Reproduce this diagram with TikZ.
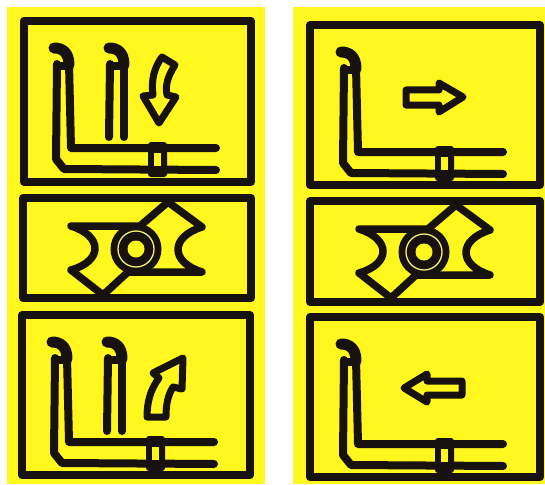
\documentclass[tikz,border=0pt]{standalone}
\usepackage{xcolor}
\usepackage{tikz}

\definecolor{signyellow}{HTML}{FFF71E}
\definecolor{signblack}{HTML}{17120F}
\definecolor{ringcolor}{HTML}{F2EE7A}

\tikzset{
    frameline/.style={draw=signblack, line width=8pt, line join=round},
    pipeline/.style={draw=signblack, line width=8pt, line join=round, line cap=round},
    arrowline/.style={draw=signblack, line width=7pt, line join=round},
    sealline/.style={draw=signblack, line width=8pt, line join=round, line cap=round}
}

\begin{document}
\begin{tikzpicture}[x=1pt, y=-1pt]

    \useasboundingbox (0,0) rectangle (545,484);

    % =================================================================
    % 1. BACKGROUND AND MACROS
    % =================================================================
    \fill[white] (0,0) rectangle (545,484);
    \fill[signyellow] (7,7) rectangle (265,484);
    \fill[signyellow] (293,7) rectangle (545,484);

    % Nozzle tip, origin at the top of its outer wall
    \def\nozzle#1#2{
        \draw[signblack, line width=11pt, line cap=round] (#1-15,#2-14) .. controls (#1-7,#2-14) and (#1,#2-10) .. (#1,#2+3);
    }

    % Long pipe with coupling, origin at the bend of the outer wall
    \def\pipe#1#2{
        \draw[pipeline] (#1-2,#2-85) -- (#1,#2) -- (#1+145,#2);
        \draw[pipeline] (#1-14,#2-84) -- (#1-15,#2+11) -- (#1-7,#2+21) -- (#1+145,#2+22);
        \draw[sealline] (#1-13,#2-82) -- (#1-2,#2-82);
        \nozzle{#1-2}{#2-86}
        \fill[signblack, rounded corners=3pt] (#1+77,#2-6) rectangle (#1+96,#2+29);
        \fill[signyellow] (#1+83,#2+5) rectangle (#1+90,#2+18);
    }

    % Short second pipe
    \def\shortpipe#1#2{
        \draw[pipeline] (#1+53,#2-85) -- (#1+53,#2-11);
        \draw[pipeline] (#1+39,#2-84) -- (#1+38,#2-11);
        \draw[sealline] (#1+40,#2-82) -- (#1+53,#2-82);
        \nozzle{#1+53}{#2-86}
    }

    % Swivel symbol, origin at the centre of the ring
    \def\swivel#1#2{
        \draw[arrowline, line width=7.5pt, line cap=round]
            (#1-65,#2-23) -- (#1+4,#2-23) -- (#1+32,#2-47) -- (#1+66,#2-22)
            .. controls (#1+34,#2-12) and (#1+34,#2+13) .. (#1+66,#2+23)
            -- (#1-8,#2+23) -- (#1-33,#2+46) -- (#1-65,#2+21)
            .. controls (#1-33,#2+12) and (#1-33,#2-13) .. cycle;
        \fill[signblack] (#1,#2) circle (25.5);
        \draw[ringcolor, line width=1.3pt] (#1,#2) circle (18);
        \fill[signyellow] (#1,#2) circle (8.5);
    }

    % =================================================================
    % 2. LEFT COLUMN
    % =================================================================
    \draw[frameline] (24,21) rectangle (251,182);
    \draw[frameline] (23,198) rectangle (251,298);
    \draw[frameline] (22,315) rectangle (250,475);

    \pipe{71}{148}
    \shortpipe{71}{148}
    \swivel{136}{249}
    \pipe{69}{442}
    \shortpipe{69}{442}

    % Curved arrow down
    \draw[arrowline] (162,57) -- (175,65) .. controls (168,76) and (165,85) .. (167,95)
        -- (176,97) -- (159,123) -- (143,96) -- (153,95)
        .. controls (151,80) and (154,68) .. cycle;

    % Curved arrow up
    \draw[arrowline] (183,358) -- (153,373) -- (159,378)
        .. controls (150,390) and (147,403) .. (147,417) -- (166,417)
        .. controls (166,404) and (168,395) .. (173,387) -- (182,389) -- cycle;

    % =================================================================
    % 3. RIGHT COLUMN
    % =================================================================
    \draw[frameline] (310,25) rectangle (540,185);
    \draw[frameline] (310,201) rectangle (540,302);
    \draw[frameline] (310,317) rectangle (540,477);

    \pipe{358}{152}
    \swivel{424}{252}
    \pipe{358}{444}

    % Straight arrow right
    \draw[arrowline] (406,90) -- (439,90) -- (439,83) -- (463,97) -- (439,112) -- (439,105) -- (406,105) -- cycle;

    % Straight arrow left
    \draw[arrowline] (462,381) -- (427,381) -- (427,374) -- (404,388) -- (427,402) -- (427,395) -- (462,395) -- cycle;

\end{tikzpicture}
\end{document}
